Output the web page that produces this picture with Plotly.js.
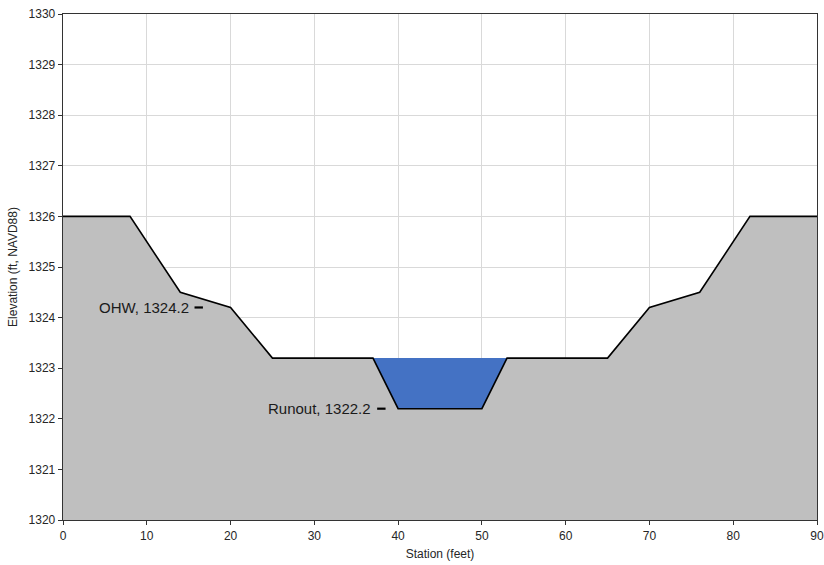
<!DOCTYPE html>
<html>
<head>
<meta charset="utf-8">
<script src="https://cdn.plot.ly/plotly-3.0.1.min.js"></script>
<style>html,body{margin:0;padding:0;background:#fff;}#chart{width:824px;height:565px;}</style>
</head>
<body>
<div id="chart"></div>
<script>
// Ground profile
const station = [0, 8, 14, 20, 25, 37, 40, 50, 53, 65, 70, 76, 82, 90];
const elevation = [1326, 1326, 1324.5, 1324.2, 1323.2, 1323.2, 1322.2, 1322.2, 1323.2, 1323.2, 1324.2, 1324.5, 1326, 1326];
// Water (blue) polygon
const waterStation = [37, 40, 50, 53, 37];
const waterElevation = [1323.2, 1322.2, 1322.2, 1323.2, 1323.2];
// Labels
const labelStation = [16.2, 38.0];
const labelElevation = [1324.2, 1322.2];
const labelText = ["OHW, 1324.2", "Runout, 1322.2"];

const font = "Liberation Sans, Arial, sans-serif";

const traces = [
  {x: station, y: elevation, type: 'scatter', mode: 'none', fill: 'tozeroy',
   fillcolor: '#bfbfbf', hoverinfo: 'skip'},
  {x: waterStation, y: waterElevation, type: 'scatter', mode: 'none', fill: 'toself',
   fillcolor: '#4472c4', hoverinfo: 'skip'},
  {x: station, y: elevation, type: 'scatter', mode: 'lines',
   line: {color: '#000', width: 1.6}, hoverinfo: 'skip'},
  {x: labelStation, y: labelElevation, type: 'scatter', mode: 'markers',
   marker: {symbol: 'line-ew', size: 6, line: {width: 2.2, color: '#000'}},
   hoverinfo: 'skip'}
];

const annotations = labelText.map((t, i) => ({
  x: labelStation[i], y: labelElevation[i], xref: 'x', yref: 'y',
  text: t, showarrow: false, xanchor: 'right', yanchor: 'middle',
  xshift: -8, yshift: 0,
  font: {family: font, size: 15, color: '#1a1a1a'}
}));

const layout = {
  width: 824, height: 565,
  margin: {l: 63, r: 7, t: 14, b: 45},
  paper_bgcolor: '#fff', plot_bgcolor: '#fff',
  showlegend: false,
  font: {family: font, size: 12, color: '#262626'},
  annotations: annotations,
  xaxis: {
    range: [0, 90], dtick: 10, tick0: 0,
    showgrid: true, gridcolor: '#d9d9d9', gridwidth: 1,
    zeroline: false,
    showline: true, linecolor: '#333', linewidth: 1.3, mirror: true,
    ticks: 'outside', ticklen: 4, tickcolor: '#333',
    tickfont: {family: font, size: 12, color: '#262626'},
    title: {text: 'Station (feet)', font: {family: font, size: 12, color: '#262626'}, standoff: 8}
  },
  yaxis: {
    range: [1320, 1330], dtick: 1, tick0: 1320,
    showgrid: true, gridcolor: '#d9d9d9', gridwidth: 1,
    zeroline: false,
    showline: true, linecolor: '#333', linewidth: 1.3, mirror: true,
    ticks: 'outside', ticklen: 4, tickcolor: '#333',
    tickfont: {family: font, size: 12, color: '#262626'},
    title: {text: 'Elevation (ft, NAVD88)', font: {family: font, size: 12, color: '#262626'}, standoff: 8}
  }
};

Plotly.newPlot('chart', traces, layout, {displayModeBar: false, staticPlot: true});
</script>
</body>
</html>
